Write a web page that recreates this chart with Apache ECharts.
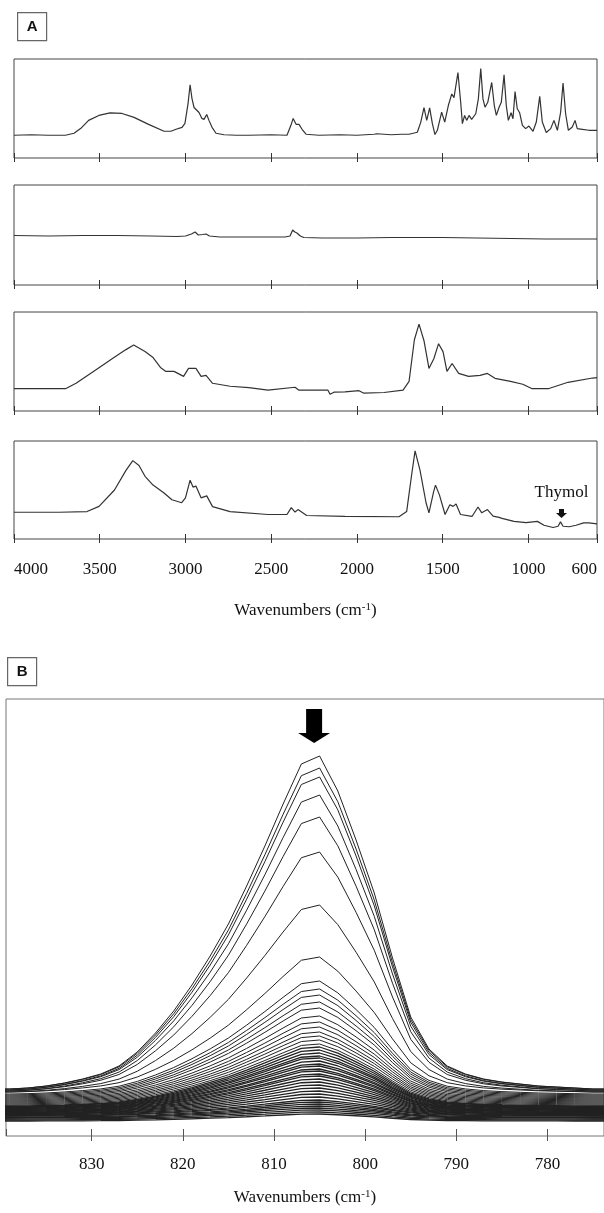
<!DOCTYPE html>
<html>
<head>
<meta charset="utf-8">
<title>FTIR spectra</title>
<script src="https://cdn.jsdelivr.net/npm/echarts@6/dist/echarts.min.js"></script>
<style>
  html, body { margin: 0; padding: 0; background: #fff; }
  #chart { width: 604px; height: 1213px; }
</style>
</head>
<body>
<div id="chart"></div>
<script>
/* ---------- panel A: four spectra (wavenumber / absorbance, a.u.) ---------- */
const spec1Wn = [4000, 3900, 3800, 3700, 3650, 3610, 3565, 3505, 3440, 3370, 3300, 3215, 3125, 3085, 3055, 3020, 3003, 2985, 2973, 2962, 2950, 2939, 2921, 2904, 2892, 2876, 2863, 2845, 2822, 2775, 2700, 2630, 2500, 2408, 2385, 2372, 2355, 2338, 2320, 2297, 2221, 2100, 2000, 1900, 1883, 1800, 1740, 1696, 1648, 1628, 1609, 1593, 1576, 1560, 1545, 1531, 1506, 1488, 1467, 1447, 1434, 1411, 1395, 1385, 1372, 1360, 1346, 1331, 1307, 1292, 1278, 1265, 1253, 1237, 1214, 1199, 1187, 1171, 1158, 1142, 1129, 1117, 1101, 1090, 1078, 1065, 1051, 1035, 1016, 997, 973, 954, 934, 919, 896, 870, 851, 831, 812, 798, 783, 767, 744, 728, 715, 686, 647, 617, 600];
const spec1Abs = [23, 23.5, 23, 23, 25, 30, 38, 43, 45.5, 45, 41, 34, 27, 27, 29, 31, 35, 55, 74, 60, 51, 52, 46, 40, 39, 44, 38, 31, 25, 23.5, 23, 23, 23.5, 23, 33, 40, 34, 34, 29, 24, 23, 23.5, 23, 24, 24.5, 23.5, 24, 24, 26, 36, 51, 38, 50.7, 34.7, 23.7, 28, 46.3, 36.3, 53, 64.7, 61, 86.3, 56.3, 34.7, 43, 38, 43, 39, 44.7, 59.7, 90.3, 59.7, 51.3, 56.3, 76.3, 53, 43, 51.3, 56.3, 84, 53, 38, 45.7, 39.7, 67, 49.7, 45.7, 33, 29.7, 32.3, 27, 36.3, 62.3, 36.3, 25.7, 29.7, 38, 28, 46.3, 75.7, 44.7, 28, 31.3, 38, 29.7, 29, 28, 28, 28];

const spec2Wn = [4000, 3800, 3600, 3400, 3200, 3050, 3000, 2965, 2944, 2925, 2900, 2880, 2860, 2800, 2600, 2420, 2390, 2375, 2362, 2350, 2330, 2310, 2200, 2000, 1800, 1700, 1500, 1300, 1100, 900, 600];
const spec2Abs = [49.5, 49, 49.5, 49.5, 49, 48.5, 49, 51, 53, 50, 50.5, 51, 49, 48, 48, 48, 49, 55, 53, 52, 49, 47.5, 47, 47, 47.5, 47.5, 47.5, 47, 46.5, 46, 46];

const spec3Wn = [4000, 3697, 3638, 3528, 3417, 3347, 3302, 3236, 3189, 3146, 3114, 3067, 3011, 2982, 2939, 2909, 2880, 2842, 2740, 2630, 2519, 2361, 2338, 2169, 2157, 2134, 2070, 1988, 1959, 1842, 1731, 1696, 1665, 1638, 1609, 1580, 1551, 1524, 1498, 1475, 1445, 1407, 1349, 1282, 1239, 1195, 1104, 1033, 981, 880, 769, 626, 600];
const spec3Abs = [22.7, 22.7, 28, 41, 54, 62, 66.7, 60, 54, 44, 40, 40, 35, 43, 43, 35, 36, 28, 25, 23.7, 21, 24, 21, 21, 17, 19, 19.3, 20.5, 18, 18.7, 21, 30, 72, 87.7, 71, 43, 53, 68, 60, 40, 48, 38, 35, 36, 38, 33, 30, 27, 22.7, 22.7, 29, 33.3, 33.7];

const spec4Wn = [4000, 3738, 3574, 3504, 3414, 3347, 3307, 3271, 3236, 3189, 3125, 3079, 3022, 3000, 2973, 2956, 2939, 2909, 2876, 2842, 2740, 2519, 2408, 2383, 2361, 2344, 2293, 2070, 1755, 1710, 1683, 1661, 1632, 1597, 1580, 1553, 1542, 1519, 1486, 1458, 1439, 1422, 1396, 1329, 1294, 1272, 1239, 1206, 1171, 1154, 1084, 1014, 948, 909, 856, 827, 813, 798, 763, 722, 678, 647, 600];
const spec4Abs = [27.3, 27.3, 28, 33.3, 50, 70, 80, 75, 64, 55, 47, 40, 37, 42, 60, 53, 54, 42, 44, 33, 28, 25, 25, 32, 27.5, 30, 24, 23, 22.7, 28, 63, 90, 70, 37, 26.7, 48, 55, 45, 25, 35, 33.3, 35.7, 25, 23, 32.7, 26.7, 30, 23.3, 22, 21, 18, 16.7, 18, 14, 11.7, 13, 17.5, 13, 12.5, 14, 16.5, 16.5, 15.5];

const thymolMark = [807, 26];

/* ---------- panel B: thymol band, one curve per time point ---------- */
const bandWn = [841, 839, 837, 835, 833, 831, 829, 827, 825, 823, 821, 819, 817, 815, 813, 811, 809, 807, 805, 803, 801, 799, 797, 795, 793, 791, 789, 787, 785, 783, 781, 779, 777, 775, 773];
// outermost (last) curve, read point by point
const topCurve = [47, 47, 48, 50, 53, 57, 62, 70, 84, 103, 125, 151, 180, 212, 250, 290, 332, 372, 380, 345, 296, 243, 178, 119, 87, 70, 62, 57, 54, 52, 50, 49, 48, 47, 47];
// band maximum (at 805) and edge level of every curve, top to bottom
const peakLevels = [380, 368, 359, 341, 319, 284, 231, 179, 155, 147, 141, 134, 128, 120, 114, 109, 104, 100, 96, 92, 89, 86, 83, 80, 78, 75, 72, 70, 67, 65, 62, 60, 57, 54, 51, 48, 45, 42, 39, 36, 34, 32, 30, 28, 26, 24, 22];
const baseLevels = [47, 47, 46, 46, 45, 45, 44, 44, 42, 41, 40, 39, 38, 37, 36, 35, 34, 33, 32, 31, 30, 29.5, 29, 28.5, 28, 27.5, 27, 26.5, 26, 25.5, 25, 24.5, 24, 23.5, 23, 22.5, 22, 21.5, 21, 20.5, 20, 19, 18.5, 18, 17, 16, 15];
const arrowMark = [805.6, 410];

/* ---------- helpers ---------- */
const SERIF = "'Liberation Serif', 'Times New Roman', serif";
const zip = (xs, ys) => xs.map((x, i) => [x, ys[i]]);
const plainNum = (v) => String(v);

const stripTops = [59, 185, 312, 441];
const stripHeights = [99, 100, 99, 98];

function stripAxes(gridIndex, withLabels) {
  const common = {
    type: "value", gridIndex, position: "bottom", min: 600, max: 4000, inverse: true,
    splitLine: { show: false }, axisLine: { show: false },
  };
  const outer = {
    ...common,
    axisTick: { inside: false, length: 4, lineStyle: { color: "#333" } },
    axisLabel: { show: false },
  };
  if (withLabels) {
    outer.axisLabel = {
      show: true, margin: 22, fontSize: 17, color: "#111", fontFamily: SERIF,
      alignMinLabel: "right", alignMaxLabel: "left", formatter: plainNum,
    };
    outer.name = "Wavenumbers (cm{sup|-1})";
    outer.nameLocation = "middle";
    outer.nameGap = 63;
    outer.nameTextStyle = {
      fontSize: 17, color: "#111", fontFamily: SERIF,
      rich: { sup: { fontSize: 11, color: "#111", fontFamily: SERIF, verticalAlign: "top" } },
    };
  }
  const inner = {
    ...common,
    axisTick: { inside: true, length: 5, lineStyle: { color: "#333" } },
    axisLabel: { show: false },
  };
  return [outer, inner];
}

const grids = stripTops.map((top, i) => ({
  left: 14, right: 7, top, height: stripHeights[i],
  show: true, borderColor: "#444", borderWidth: 1, backgroundColor: "transparent",
}));
grids.push({
  left: 6, right: -3, top: 699, height: 437,
  show: true, borderColor: "#777", borderWidth: 1, backgroundColor: "transparent",
});

const xAxes = [];
for (let i = 0; i < 4; i++) xAxes.push(...stripAxes(i, i === 3));
const bandCommon = {
  type: "value", gridIndex: 4, position: "bottom", min: 773.8, max: 839.4, inverse: true,
  splitLine: { show: false }, axisLine: { show: false },
};
xAxes.push({
  ...bandCommon,
  axisTick: { inside: false, length: 5, lineStyle: { color: "#555" } },
  axisLabel: {
    margin: 20, fontSize: 17, color: "#111", fontFamily: SERIF,
    showMinLabel: false, showMaxLabel: false, formatter: plainNum,
  },
  name: "Wavenumbers (cm{sup|-1})",
  nameLocation: "middle",
  nameGap: 53,
  nameTextStyle: {
    fontSize: 17, color: "#111", fontFamily: SERIF,
    rich: { sup: { fontSize: 11, color: "#111", fontFamily: SERIF, verticalAlign: "top" } },
  },
});
xAxes.push({
  ...bandCommon,
  axisTick: { inside: true, length: 7, lineStyle: { color: "#555" } },
  axisLabel: { show: false },
});

const yAxes = [0, 1, 2, 3].map((g) => ({ type: "value", gridIndex: g, min: 0, max: 100, show: false }));
yAxes.push({ type: "value", gridIndex: 4, min: 0, max: 437, show: false });

/* ---------- series ---------- */
const specLine = { type: "line", showSymbol: false, silent: true, lineStyle: { color: "#333", width: 1.2 } };
const spectra = [
  zip(spec1Wn, spec1Abs),
  zip(spec2Wn, spec2Abs),
  zip(spec3Wn, spec3Abs),
  zip(spec4Wn, spec4Abs),
];
const series = spectra.map((data, i) => ({
  ...specLine, xAxisIndex: i * 2, yAxisIndex: i, data,
}));
series[3].markPoint = {
  silent: true, animation: false,
  data: [{
    coord: thymolMark,
    symbol: "path://M3,0H8V4H11L5.5,9L0,4H3Z",
    symbolSize: [11, 9],
    itemStyle: { color: "#111" },
    label: { show: true, position: "top", distance: 8, formatter: "Thymol", color: "#111", fontSize: 17, fontFamily: SERIF },
  }],
};

const edge = topCurve[0];
const span = topCurve[18] - edge;
peakLevels.forEach((peak, i) => {
  const base = baseLevels[i];
  const k = (peak - base) / span;
  series.push({
    type: "line", showSymbol: false, silent: true,
    xAxisIndex: 8, yAxisIndex: 4,
    lineStyle: { color: "#222", width: i < 20 ? 1 : 1.3 },
    data: bandWn.map((wn, j) => [wn, base + (topCurve[j] - edge) * k]),
  });
});
series[4].markPoint = {
  silent: true, animation: false,
  data: [{
    coord: arrowMark,
    symbol: "path://M8,0H24V24H32L16,34L0,24H8Z",
    symbolSize: [32, 34],
    itemStyle: { color: "#000" },
    label: { show: false },
  }],
};

/* ---------- panel letters ---------- */
function letterBox(text, left, top) {
  return {
    type: "group", left, top,
    children: [
      { type: "rect", shape: { x: 0, y: 0, width: 29, height: 28 }, style: { fill: "#fff", stroke: "#666", lineWidth: 1.2 } },
      { type: "text", x: 14.5, y: 14.5, style: { text, font: "bold 15px 'Liberation Sans', Arial, sans-serif", align: "center", verticalAlign: "middle", fill: "#111" } },
    ],
  };
}

const chart = echarts.init(document.getElementById("chart"), null, { renderer: "canvas" });
chart.setOption({
  animation: false,
  backgroundColor: "#fff",
  grid: grids,
  xAxis: xAxes,
  yAxis: yAxes,
  series,
  graphic: [letterBox("A", 17, 12), letterBox("B", 7, 657)],
});
</script>
</body>
</html>
